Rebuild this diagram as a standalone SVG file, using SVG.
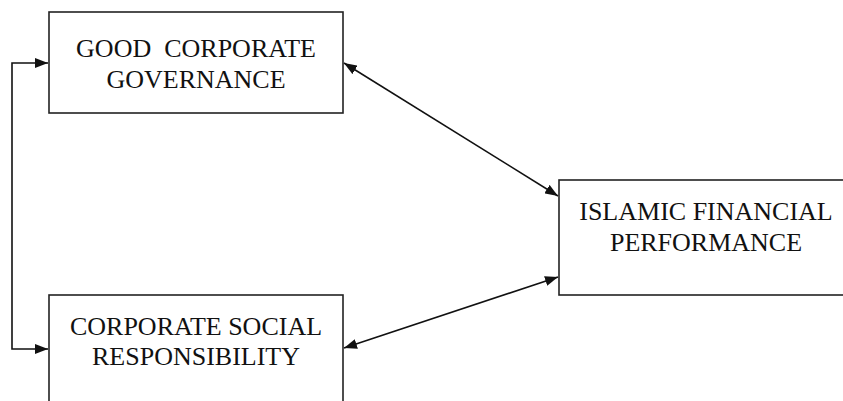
<svg xmlns="http://www.w3.org/2000/svg" width="843" height="401" viewBox="0 0 843 401">
<style>
.box{fill:#fff;stroke:#222;stroke-width:1.6}
.lbl{font-family:"Liberation Serif","Times New Roman",serif;font-size:26px;fill:#111;text-anchor:middle;white-space:pre}
.conn{fill:none;stroke:#111;stroke-width:1.6}
</style>
<defs>
<marker id="ah" viewBox="0 0 13 10" refX="13" refY="5" markerWidth="13" markerHeight="10" markerUnits="userSpaceOnUse" orient="auto-start-reverse">
<path d="M0,0 L13,5 L0,10 Z" fill="#111"/>
</marker>
</defs>
<rect width="843" height="401" fill="#fff"/>
<g id="gcg">
<rect class="box" x="49" y="12" width="294" height="101"/>
<text class="lbl" x="196" y="57" xml:space="preserve">GOOD  CORPORATE</text>
<text class="lbl" x="196" y="88">GOVERNANCE</text>
</g>
<g id="csr">
<rect class="box" x="49" y="295" width="294" height="120"/>
<text class="lbl" x="196" y="335">CORPORATE SOCIAL</text>
<text class="lbl" x="196" y="365">RESPONSIBILITY</text>
</g>
<g id="ifp">
<rect class="box" x="559" y="180" width="295" height="115"/>
<text class="lbl" x="706" y="220">ISLAMIC FINANCIAL</text>
<text class="lbl" x="706" y="251">PERFORMANCE</text>
</g>
<g id="connectors">
<path class="conn" d="M48,63 L12,63 L12,349 L48,349" marker-start="url(#ah)" marker-end="url(#ah)"/>
<path class="conn" d="M344,63 L558,196" marker-start="url(#ah)" marker-end="url(#ah)"/>
<path class="conn" d="M344,348 L558,277" marker-start="url(#ah)" marker-end="url(#ah)"/>
</g>
</svg>
